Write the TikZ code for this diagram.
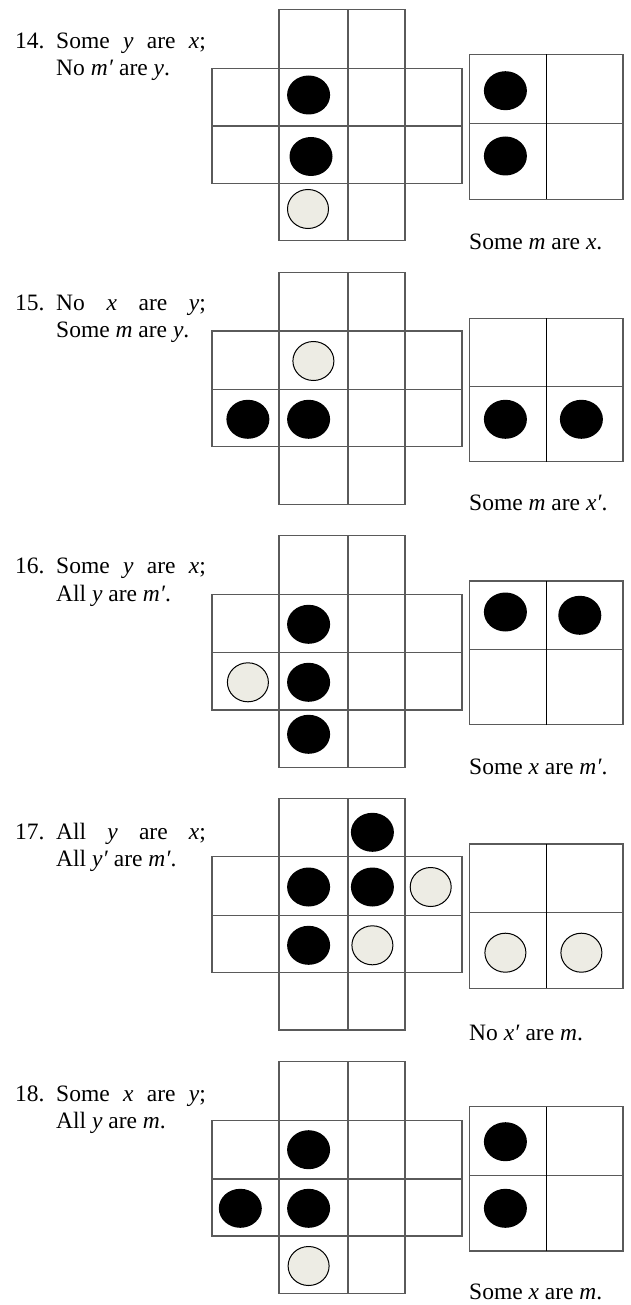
\documentclass[tikz,border=0pt]{standalone}
\usepackage{fontspec}
\setmainfont{Liberation Serif}
\usetikzlibrary{shapes.geometric}
\definecolor{gridgray}{HTML}{5A5A5A}
\definecolor{pale}{HTML}{EDECE4}
\tikzset{
  gridline/.style={draw=gridgray, line width=1.3pt},
  innerline/.style={draw=black, line width=1.1pt},
  blackdot/.style={ellipse, fill=black, minimum width=43pt, minimum height=39pt, inner sep=0pt},
  paledot/.style={ellipse, fill=pale, draw=black, line width=1pt, minimum width=41pt, minimum height=39pt, inner sep=0pt},
  txt/.style={anchor=base west, inner sep=0pt, font=\fontsize{23.5}{27}\selectfont},
}
\newcommand{\crossgrid}[5]{%
  \draw[gridline] (279,#1) rectangle (405,#5);
  \draw[gridline] (212,#2) rectangle (462,#4);
  \draw[gridline] (348,#1) -- (348,#5);
  \draw[gridline] (212,#3) -- (462,#3);
}
\newcommand{\squaregrid}[3]{%
  \draw[gridline] (469.5,#1) rectangle (623,#3);
  \draw[gridline] (469.5,#2) -- (623,#2);
  \draw[innerline] (546.5,#1) -- (546.5,#3);
}
\begin{document}
\begin{tikzpicture}[x=1pt,y=-1pt]
\useasboundingbox[fill=white] (0,0) rectangle (630,1305);

% ---------- 14 ----------
\crossgrid{9.3}{68.3}{126}{183.3}{240.7}
\squaregrid{54.3}{123.3}{199.3}
\node[blackdot] (a1) at (308.6,95) {};
\node[blackdot] (a2) at (311,156.5) {};
\node[paledot]  (a3) at (308,209) {};
\node[blackdot] (a4) at (505.4,90.7) {};
\node[blackdot] (a5) at (505.4,156) {};
\node[txt] (n14) at (15,48.5) {14.};
\node[txt] (p14a) at (56,48.5) {\makebox[149.7pt][l]{Some\hfill\textit{y}\hfill are\hfill\textit{x};}};
\node[txt] (p14b) at (56,75.5) {No \textit{m′} are \textit{y}.};
\node[txt] (c14) at (469,250) {Some \textit{m} are \textit{x}.};

% ---------- 15 ----------
\crossgrid{272.7}{331}{389.3}{446.7}{504.3}
\squaregrid{318.3}{386.7}{461.7}
\node[paledot]  (b1) at (313.4,361) {};
\node[blackdot] (b2) at (247.9,419.3) {};
\node[blackdot] (b3) at (308.6,419.3) {};
\node[blackdot] (b4) at (505.4,419.3) {};
\node[blackdot] (b5) at (581.4,419.3) {};
\node[txt] (n15) at (15,310) {15.};
\node[txt] (p15a) at (56,310) {\makebox[149.7pt][l]{No\hfill\textit{x}\hfill are\hfill\textit{y};}};
\node[txt] (p15b) at (56,337.5) {Some \textit{m} are \textit{y}.};
\node[txt] (c15) at (469,510.5) {Some \textit{m} are \textit{x′}.};

% ---------- 16 ----------
\crossgrid{535.7}{594.3}{652.7}{710}{767.3}
\squaregrid{581}{649.3}{724.7}
\node[blackdot] (d1) at (308.6,624.3) {};
\node[paledot]  (d2) at (247.9,682.3) {};
\node[blackdot] (d3) at (308.6,682.3) {};
\node[blackdot] (d4) at (308.6,734.3) {};
\node[blackdot] (d5) at (505.4,612) {};
\node[blackdot] (d6) at (579.8,615.3) {};
\node[txt] (n16) at (15,573.5) {16.};
\node[txt] (p16a) at (56,573.5) {\makebox[149.7pt][l]{Some\hfill\textit{y}\hfill are\hfill\textit{x};}};
\node[txt] (p16b) at (56,601.5) {All \textit{y} are \textit{m′}.};
\node[txt] (c16) at (469,774) {Some \textit{x} are \textit{m′}.};

% ---------- 17 ----------
\crossgrid{798.3}{856.7}{915.7}{972.7}{1030}
\squaregrid{844}{912.7}{988.3}
\node[blackdot] (e1) at (372.4,832.3) {};
\node[blackdot] (e2) at (308.6,887) {};
\node[blackdot] (e3) at (372.4,887) {};
\node[paledot]  (e4) at (430.7,887) {};
\node[blackdot] (e5) at (308.6,945.3) {};
\node[paledot]  (e6) at (372.4,945.3) {};
\node[paledot]  (e7) at (505.4,952.7) {};
\node[paledot]  (e8) at (581.4,952.7) {};
\node[txt] (n17) at (15,839.5) {17.};
\node[txt] (p17a) at (56,839.5) {\makebox[149.7pt][l]{All\hfill\textit{y}\hfill are\hfill\textit{x};}};
\node[txt] (p17b) at (56,866) {All \textit{y′} are \textit{m′}.};
\node[txt] (c17) at (469,1040.5) {No \textit{x′} are \textit{m}.};

% ---------- 18 ----------
\crossgrid{1061.7}{1120.7}{1179}{1236}{1293.3}
\squaregrid{1106.7}{1175.7}{1251}
\node[blackdot] (f1) at (308.6,1149.7) {};
\node[blackdot] (f2) at (240.3,1208.3) {};
\node[blackdot] (f3) at (308.6,1208.3) {};
\node[paledot]  (f4) at (308.6,1266) {};
\node[blackdot] (f5) at (505.4,1141.7) {};
\node[blackdot] (f6) at (505.4,1208.3) {};
\node[txt] (n18) at (15,1101.5) {18.};
\node[txt] (p18a) at (56,1101.5) {\makebox[149.7pt][l]{Some\hfill\textit{x}\hfill are\hfill\textit{y};}};
\node[txt] (p18b) at (56,1128.5) {All \textit{y} are \textit{m}.};
\node[txt] (c18) at (469,1299) {Some \textit{x} are \textit{m}.};
\end{tikzpicture}
\end{document}
